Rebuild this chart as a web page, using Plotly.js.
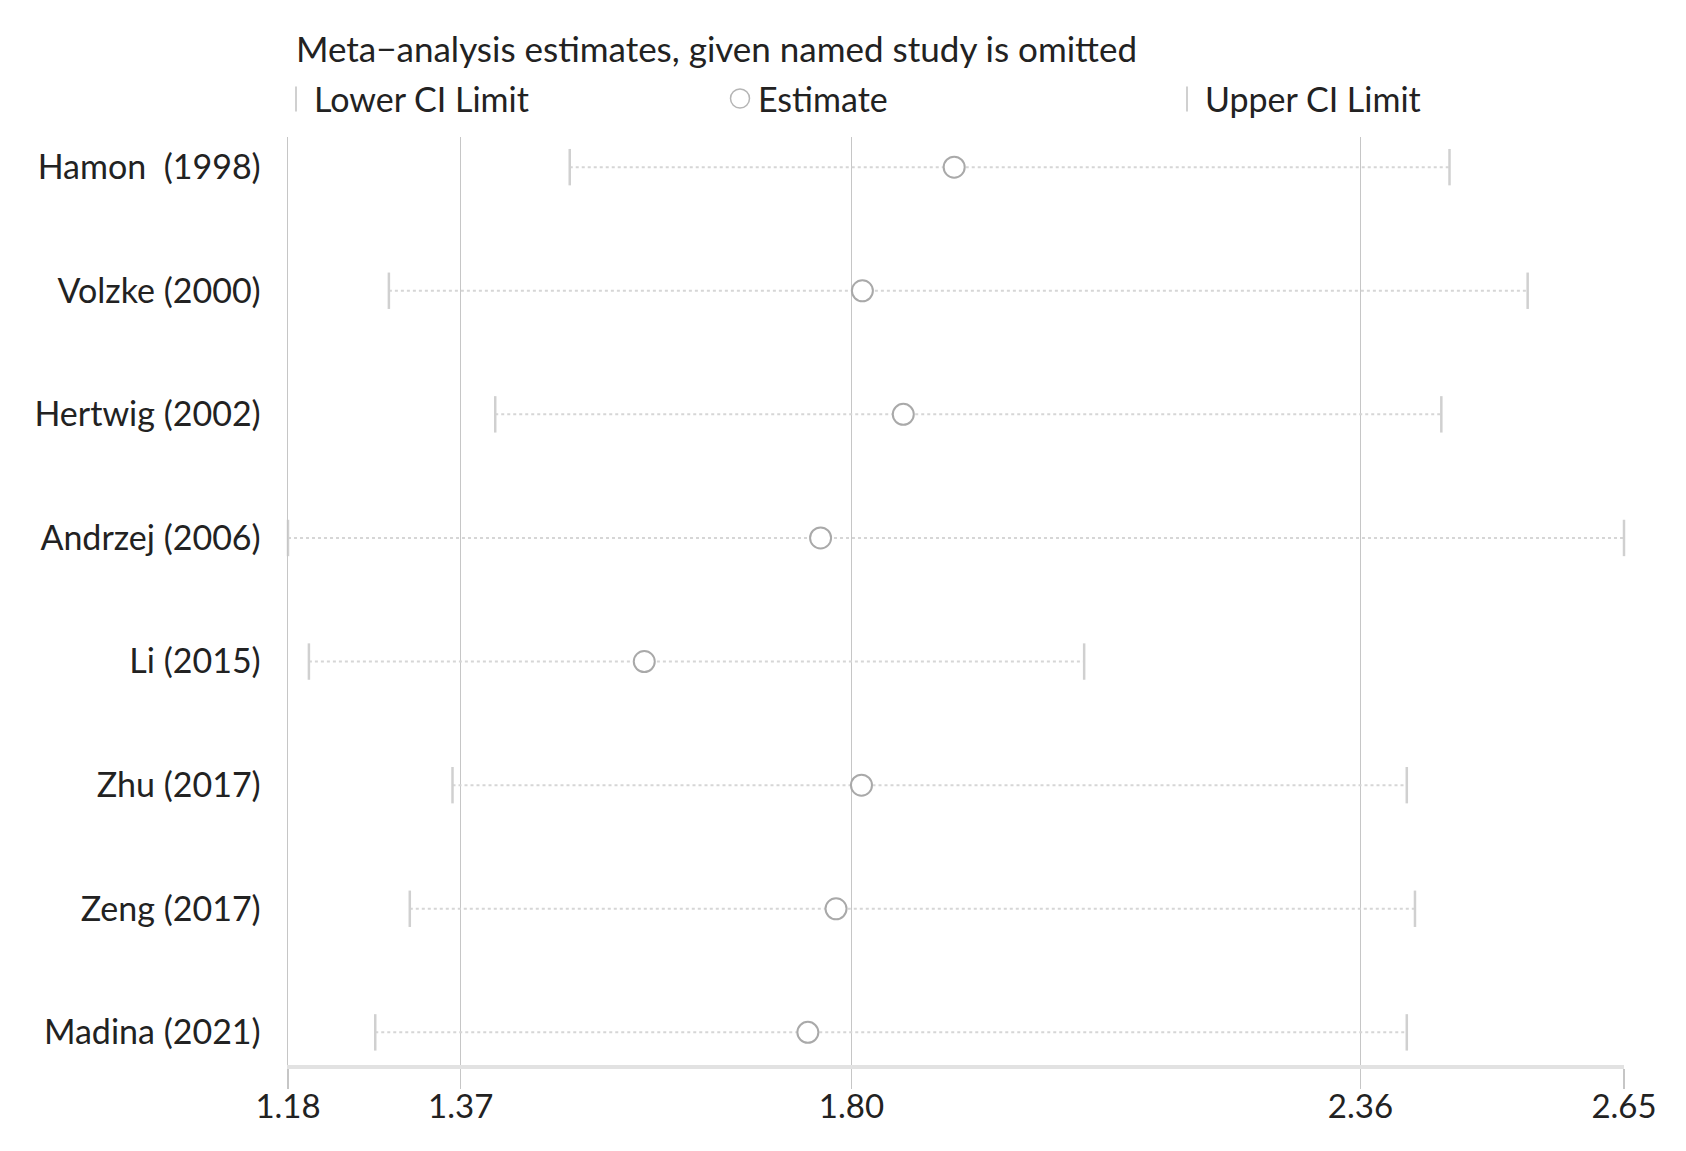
<!DOCTYPE html>
<html>
<head>
<meta charset="utf-8">
<script src="https://cdn.plot.ly/plotly-3.0.1.min.js"></script>
<style>html,body{margin:0;padding:0;background:#fff;}#chart{width:1686px;height:1151px;}</style>
</head>
<body>
<div id="chart"></div>
<script>
// ---- data ----
const studies = ["Hamon  (1998)", "Volzke (2000)", "Hertwig (2002)", "Andrzej (2006)", "Li (2015)", "Zhu (2017)", "Zeng (2017)", "Madina (2021)"];
const lowerCI  = [1.490, 1.291, 1.408, 1.180, 1.203, 1.361, 1.314, 1.276];
const estimate = [1.913, 1.812, 1.857, 1.766, 1.572, 1.811, 1.783, 1.752];
const upperCI  = [2.458, 2.544, 2.449, 2.650, 2.056, 2.411, 2.420, 2.411];
const tickVals = [1.18, 1.37, 1.80, 2.36, 2.65];
const tickText = ["1.18", "1.37", "1.80", "2.36", "2.65"];
const titleText = "Meta\u2212analysis estimates, given named study is omitted";
const legendNames = ["Lower CI Limit", "Estimate", "Upper CI Limit"];

// ---- build traces ----
const FONT = "Lato, 'Open Sans', sans-serif";
const segX = [], segY = [];
studies.forEach((s, i) => { segX.push(lowerCI[i], upperCI[i], null); segY.push(s, s, null); });

const CI_COLOR = "#d0d0d0";
const traces = [
  { type: "scatter", mode: "lines", x: segX, y: segY, showlegend: false, hoverinfo: "skip",
    line: { color: "#d6d6d6", width: 2, dash: "dot" }, cliponaxis: false },
  { type: "scatter", mode: "markers", x: lowerCI, y: studies, name: legendNames[0], showlegend: false, cliponaxis: false,
    marker: { symbol: "line-ns-open", size: 26, color: CI_COLOR, line: { color: CI_COLOR, width: 2.5 } } },
  { type: "scatter", mode: "markers", x: upperCI, y: studies, name: legendNames[2], showlegend: false, cliponaxis: false,
    marker: { symbol: "line-ns-open", size: 26, color: CI_COLOR, line: { color: CI_COLOR, width: 2.5 } } },
  { type: "scatter", mode: "markers", x: estimate, y: studies, name: legendNames[1], showlegend: false, cliponaxis: false,
    marker: { symbol: "circle", size: 21, color: "#ffffff", line: { color: "#a9a9a9", width: 2 } } },
  // invisible trace on overlay axis for inner gridlines
  { type: "scatter", mode: "markers", x: [tickVals[0]], y: [studies[0]], xaxis: "x2", yaxis: "y",
    marker: { opacity: 0 }, showlegend: false, hoverinfo: "skip" }
];

const gridVals = tickVals.slice(1, -1);

// legend geometry in paper coords
const W = 1336, H = 928.5, L = 288, T = 136.5;
const px = v => (v - L) / W;
const py = v => (T + H - v) / H;
const legY = 98;

const layout = {
  width: 1686, height: 1151,
  margin: { l: L, r: 1686 - L - W, t: T, b: 1151 - T - H },
  paper_bgcolor: "#ffffff", plot_bgcolor: "#ffffff",
  font: { family: FONT, color: "#222222", size: 34 },
  title: { text: titleText, font: { family: FONT, size: 35, color: "#222222" },
           xref: "paper", x: px(296), xanchor: "left", yref: "container", y: 1 - 50 / 1151, yanchor: "middle" },
  showlegend: false,
  xaxis: {
    range: [tickVals[0], tickVals[tickVals.length - 1]], autorange: false,
    tickvals: tickVals, ticktext: tickText, ticks: "outside", ticklen: 20, tickwidth: 1.5, tickcolor: "#c6c6c6",
    ticklabelstandoff: -11,
    showgrid: false, zeroline: false, showline: true, linecolor: "#e2e2e2", linewidth: 4,
    tickfont: { family: FONT, size: 33, color: "#222222" }, fixedrange: true
  },
  xaxis2: {
    overlaying: "x", anchor: "y", range: [tickVals[0], tickVals[tickVals.length - 1]], autorange: false,
    tickvals: gridVals, showticklabels: false, ticks: "", showgrid: true, gridcolor: "#c6c6c6", gridwidth: 1.5,
    zeroline: false, showline: false
  },
  yaxis: {
    type: "category", categoryorder: "array", categoryarray: studies,
    range: [7.264, -0.244], autorange: false,
    showgrid: false, zeroline: false, showline: true, linecolor: "#c6c6c6", linewidth: 1.5,
    ticks: "", ticklabelstandoff: 19, tickfont: { family: FONT, size: 34, color: "#222222" }, fixedrange: true
  },
  shapes: [
    { type: "line", xref: "paper", yref: "paper", x0: px(296), x1: px(296), y0: py(86), y1: py(111),
      line: { color: "#d0d0d0", width: 2 } },
    { type: "circle", xref: "paper", yref: "paper", x0: px(730.5), x1: px(749.5), y0: py(legY - 9.5), y1: py(legY + 9.5),
      line: { color: "#b5b5b5", width: 1.5 }, fillcolor: "#ffffff" },
    { type: "line", xref: "paper", yref: "paper", x0: px(1187), x1: px(1187), y0: py(86), y1: py(111),
      line: { color: "#d0d0d0", width: 2 } }
  ],
  annotations: [
    { xref: "paper", yref: "paper", x: px(312), y: py(legY), xanchor: "left", yanchor: "middle", showarrow: false,
      text: legendNames[0], font: { family: FONT, size: 34, color: "#222222" } },
    { xref: "paper", yref: "paper", x: px(756), y: py(legY), xanchor: "left", yanchor: "middle", showarrow: false,
      text: legendNames[1], font: { family: FONT, size: 34, color: "#222222" } },
    { xref: "paper", yref: "paper", x: px(1203), y: py(legY), xanchor: "left", yanchor: "middle", showarrow: false,
      text: legendNames[2], font: { family: FONT, size: 34, color: "#222222" } }
  ]
};

Plotly.newPlot("chart", traces, layout, { displayModeBar: false, staticPlot: true });
</script>
</body>
</html>
